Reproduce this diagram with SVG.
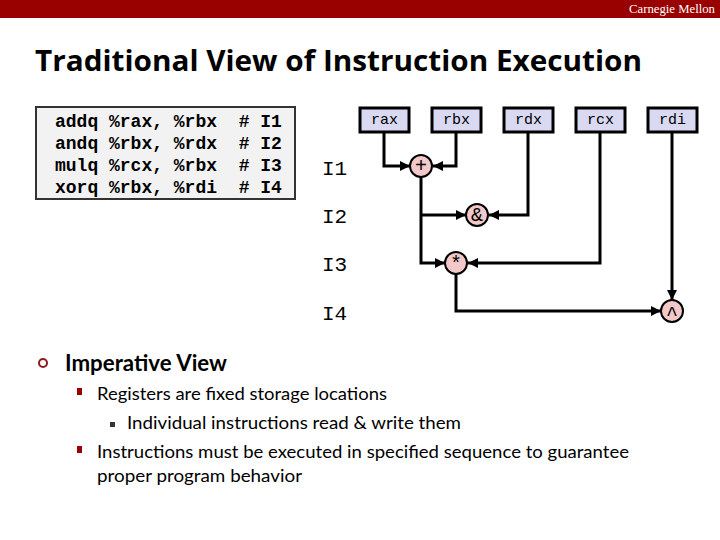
<svg xmlns="http://www.w3.org/2000/svg" width="720" height="540" viewBox="0 0 720 540">
<style>
.code{font-family:"Liberation Mono",monospace;font-weight:bold;font-size:18px;fill:#000}
.reg rect{fill:#d9d9f2;stroke:#000;stroke-width:3}
.reg text{font-family:"Liberation Mono",monospace;font-size:15px;text-anchor:middle;fill:#000}
.lbl{font-family:"Liberation Mono",monospace;font-size:21px;fill:#000}
.op circle{fill:#f2c8c8;stroke:#000;stroke-width:2}
.op text{font-family:"Liberation Mono",monospace;font-size:20px;text-anchor:middle;fill:#000}
.conn path{fill:none;stroke:#000;stroke-width:3;stroke-linejoin:miter}
.body{font-family:Lato,"Open Sans",sans-serif;fill:#000}
</style>
<defs>
<marker id="ah" markerUnits="userSpaceOnUse" markerWidth="12" markerHeight="10" refX="10" refY="5" orient="auto">
<path d="M0,0 L10,5 L0,10 Z" fill="#000"/>
</marker>
</defs>
<rect width="720" height="540" fill="#fff"/>
<g id="header">
<rect x="0" y="0" width="720" height="18" fill="#990000"/>
<text x="715" y="13" text-anchor="end" font-family="'Liberation Serif',serif" font-size="12" fill="#fff" textLength="86" lengthAdjust="spacingAndGlyphs">Carnegie Mellon</text>
</g>
<text x="35" y="71" font-family="'Open Sans',sans-serif" font-weight="bold" font-size="29" textLength="607" lengthAdjust="spacingAndGlyphs">Traditional View of Instruction Execution</text>
<g id="code">
<rect x="36" y="107" width="259" height="92" fill="#f2f2f2" stroke="#333" stroke-width="2"/>
<text class="code" xml:space="preserve" x="55" y="127">addq %rax, %rbx  # I1</text>
<text class="code" xml:space="preserve" x="55" y="149">andq %rbx, %rdx  # I2</text>
<text class="code" xml:space="preserve" x="55" y="171">mulq %rcx, %rbx  # I3</text>
<text class="code" xml:space="preserve" x="55" y="193">xorq %rbx, %rdi  # I4</text>
</g>
<g id="labels">
<text class="lbl" x="322" y="175">I1</text>
<text class="lbl" x="322" y="223">I2</text>
<text class="lbl" x="322" y="271">I3</text>
<text class="lbl" x="322" y="320">I4</text>
</g>
<g class="conn" id="connectors">
<path d="M384,132 V166 H410" marker-end="url(#ah)"/>
<path d="M456,132 V166 H433" marker-end="url(#ah)"/>
<path d="M421,177 V263 H445" marker-end="url(#ah)"/>
<path d="M421,215 H466" marker-end="url(#ah)"/>
<path d="M528,132 V215 H489" marker-end="url(#ah)"/>
<path d="M600,132 V263 H468" marker-end="url(#ah)"/>
<path d="M456,274 V311 H661" marker-end="url(#ah)"/>
<path d="M672,132 V300" marker-end="url(#ah)"/>
</g>
<g id="rax" class="reg"><rect x="360" y="108" width="49" height="24"/><text x="384.5" y="124">rax</text></g>
<g id="rbx" class="reg"><rect x="432" y="108" width="49" height="24"/><text x="456.5" y="124">rbx</text></g>
<g id="rdx" class="reg"><rect x="504" y="108" width="49" height="24"/><text x="528.5" y="124">rdx</text></g>
<g id="rcx" class="reg"><rect x="576" y="108" width="49" height="24"/><text x="600.5" y="124">rcx</text></g>
<g id="rdi" class="reg"><rect x="648" y="108" width="49" height="24"/><text x="672.5" y="124">rdi</text></g>
<g id="op-add" class="op"><circle cx="421" cy="166" r="11"/><text x="421" y="172">+</text></g>
<g id="op-and" class="op"><circle cx="477" cy="215" r="11"/><text x="477" y="221">&amp;</text></g>
<g id="op-mul" class="op"><circle cx="456" cy="263" r="11"/><text x="456" y="270">*</text></g>
<g id="op-xor" class="op"><circle cx="672" cy="311" r="11"/><text x="672" y="320">^</text></g>
<g id="bullets">
<circle cx="43" cy="363" r="4" fill="none" stroke="#8b1a1a" stroke-width="2"/>
<text class="body" x="65" y="371" font-weight="bold" font-size="22" textLength="162" lengthAdjust="spacingAndGlyphs">Imperative View</text>
<rect x="77" y="388" width="5" height="7" fill="#990000"/>
<text class="body" x="97" y="400" font-size="18" textLength="290" lengthAdjust="spacingAndGlyphs">Registers are fixed storage locations</text>
<rect x="110" y="422" width="5" height="5" fill="#333"/>
<text class="body" x="127" y="429" font-size="18" textLength="334" lengthAdjust="spacingAndGlyphs">Individual instructions read &amp; write them</text>
<rect x="77" y="446" width="5" height="7" fill="#990000"/>
<text class="body" x="97" y="458" font-size="18" textLength="532" lengthAdjust="spacingAndGlyphs">Instructions must be executed in specified sequence to guarantee</text>
<text class="body" x="97" y="482" font-size="18" textLength="205" lengthAdjust="spacingAndGlyphs">proper program behavior</text>
</g>
</svg>
